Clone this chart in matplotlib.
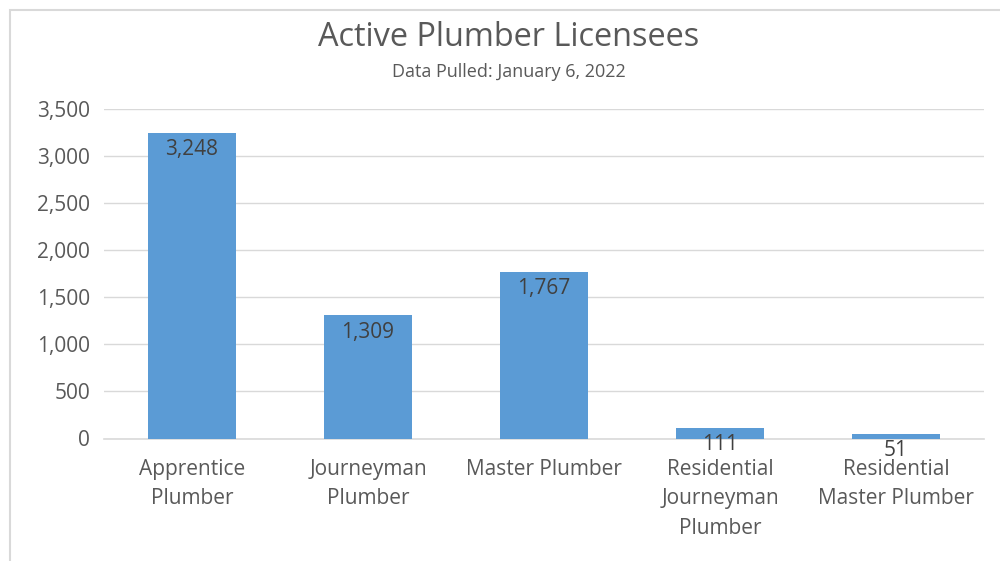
import matplotlib
matplotlib.use("Agg")
import matplotlib.pyplot as plt
from matplotlib.patches import Rectangle

categories = ["Apprentice\nPlumber", "Journeyman\nPlumber", "Master Plumber",
              "Residential\nJourneyman\nPlumber", "Residential\nMaster Plumber"]
values = [3248, 1309, 1767, 111, 51]
yticks = [0, 500, 1000, 1500, 2000, 2500, 3000, 3500]

plt.rcParams['font.family'] = ['Open Sans', 'DejaVu Sans']
W, H = 1000, 561
fig = plt.figure(figsize=(W/100, H/100), dpi=100)

# chart border (extends beyond image on right/bottom)
fig.patches.append(Rectangle((10/W, -0.1), 1.2, (H-10)/H + 0.1, transform=fig.transFigure,
                             fill=False, edgecolor='#d9d9d9', linewidth=1.5))

ax = fig.add_axes([104/W, 1-438.5/H, 880/W, (438.5-109)/H])
x = list(range(len(values)))
ax.bar(x, values, width=0.5, color='#5b9bd5', zorder=2)
ax.set_xlim(-0.5, len(values)-0.5)
ax.set_ylim(0, 3500)
ax.set_yticks(yticks)
ax.set_yticklabels([f"{v:,}" for v in yticks], fontsize=15, color='#595959')
ax.set_xticks(x)
ax.set_xticklabels(categories, fontsize=15, color='#595959', linespacing=1.55)
ax.tick_params(length=0)
ax.tick_params(axis='x', pad=14.5)
ax.tick_params(axis='y', pad=10)
ax.yaxis.grid(True, color='#d9d9d9', linewidth=1)
ax.set_axisbelow(True)
for s in ['top', 'right', 'left']:
    ax.spines[s].set_visible(False)
ax.spines['bottom'].set_color('#d9d9d9')
ax.spines['bottom'].set_linewidth(1.2)
ax.spines['bottom'].set_zorder(1)

for xi, v in zip(x, values):
    ax.annotate(f"{v:,}", (xi, v), xytext=(0, -4.5), textcoords='offset points',
                ha='center', va='top', fontsize=15, color='#404040', zorder=3)

fig.text(509/W, 1-37/H, "Active Plumber Licensees", ha='center', va='center',
         fontsize=23.4, color='#595959')
fig.text(509/W, 1-72/H, "Data Pulled: January 6, 2022", ha='center', va='center',
         fontsize=13, color='#595959')

fig.savefig("out.png", dpi=100)
